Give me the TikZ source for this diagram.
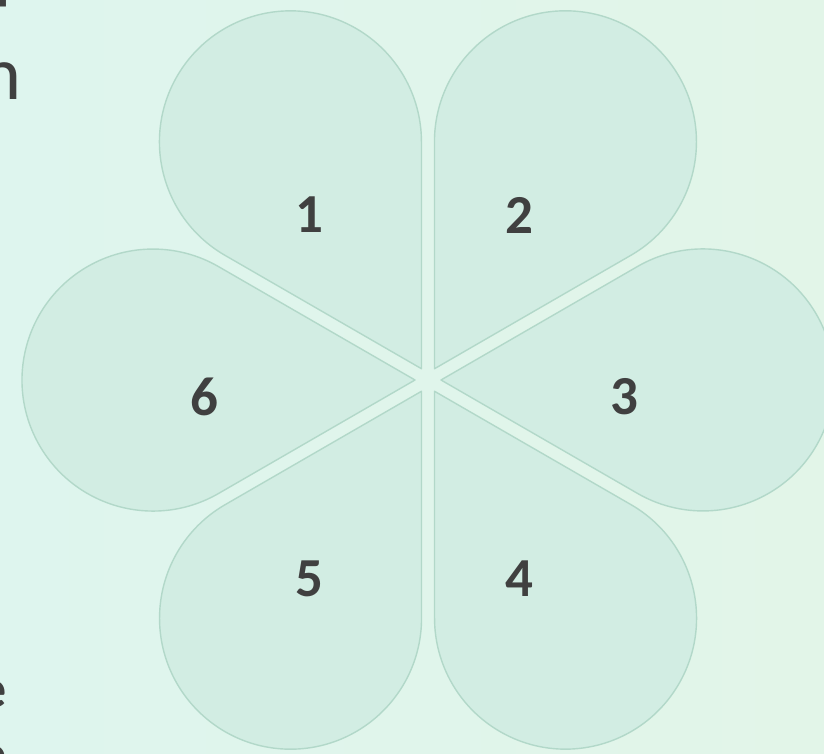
\documentclass[tikz,border=0pt]{standalone}
\usepackage{fontspec}
\setmainfont{Carlito}
\definecolor{bgleft}{HTML}{DEF5EE}
\definecolor{bgright}{HTML}{E2F5E8}
\definecolor{petalfill}{HTML}{D2EDE3}
\definecolor{petalline}{HTML}{B2D8C9}
\definecolor{numtext}{HTML}{404040}

\begin{document}
\begin{tikzpicture}[
    x=1pt, y=1pt,
    petal/.style={fill=petalfill, draw=petalline, line width=1.4pt, line join=round},
    num/.style={font=\bfseries\fontsize{55}{55}\selectfont, text=numtext},
    frag/.style={text=numtext, inner sep=0pt}
]
    % Background
    \fill[left color=bgleft, right color=bgright] (-428,-374) rectangle (396,380);
    \useasboundingbox (-428,-374) rectangle (396,380);
    \clip (-428,-374) rectangle (396,380);

    % Cut-off text on the left edge
    \node[frag, anchor=base west, font=\bfseries\fontsize{54}{54}\selectfont] (fragp) at (-432,381) {p};
    \node[frag, anchor=base east, font=\fontsize{76}{76}\selectfont] (fragn) at (-406,280) {n};
    \node[frag, anchor=base east, font=\bfseries\fontsize{54}{54}\selectfont] (frage) at (-421,-327) {e};
    \node[frag, anchor=base east, font=\bfseries\fontsize{54}{54}\selectfont] (fragf) at (-421,-392) {e};

    % Petals
    \foreach \a in {120,60,0,-60,-120,180}
        \draw[petal, rotate=\a] (13,0) -- (209.5,113.5) arc[start angle=120, end angle=-120, radius=131] -- cycle;

    % Numbers
    \foreach \n/\a in {1/120,2/60,3/0,4/-60,5/-120,6/180}
        \node[num] (num\n) at ([shift={(-14,-17)}]\a:210) {\n};
\end{tikzpicture}
\end{document}
